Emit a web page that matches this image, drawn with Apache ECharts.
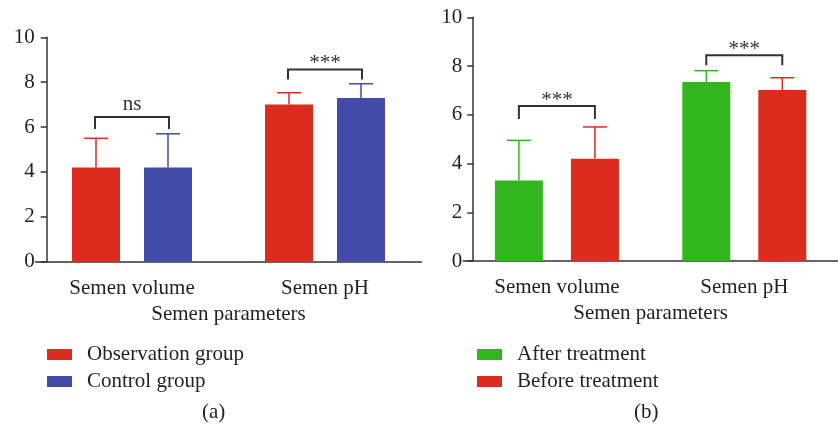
<!DOCTYPE html>
<html>
<head>
<meta charset="utf-8">
<script src="https://cdn.jsdelivr.net/npm/echarts@6/dist/echarts.min.js"></script>
<style>
  html, body { margin: 0; padding: 0; background: #fff; }
  #main { width: 838px; height: 432px; }
</style>
</head>
<body>
<div id="main"></div>
<script>
// 数据
var categories = ['Semen volume', 'Semen pH'];
var yTicks = [0, 2, 4, 6, 8, 10];

// (a)
var obsMean = [4.2, 7.0];
var obsSd = [1.3, 0.53];
var ctrlMean = [4.2, 7.3];
var ctrlSd = [1.5, 0.63];
var sigA = ['ns', '***'];
var bracketA = [6.45, 8.57];

// (b)
var afterMean = [3.3, 7.35];
var afterSd = [1.65, 0.46];
var beforeMean = [4.2, 7.02];
var beforeSd = [1.3, 0.5];
var sigB = ['***', '***'];
var bracketB = [6.36, 8.44];

var RED = '#dc2c1e', BLUE = '#424ba7', GREEN = '#31b61e';
var FONT = 'Liberation Serif';
var FS = 21;
var TXT = '#231f20';

var echart_1 = echarts.init(document.getElementById('main'));

function errSeries(means, sds, color, idx, shift) {
    return {
        type: 'custom',
        xAxisIndex: idx, yAxisIndex: idx,
        z: 3,
        data: means.map(function (m, i) { return [i, m, m + sds[i]]; }),
        renderItem: function (params, api) {
            var p0 = api.coord([api.value(0), api.value(1)]);
            var p1 = api.coord([api.value(0), api.value(2)]);
            var x = p0[0] + shift;
            return {
                type: 'group',
                children: [
                    { type: 'line', shape: { x1: x, y1: p0[1], x2: x, y2: p1[1] }, style: { stroke: color, lineWidth: 1.5 } },
                    { type: 'line', shape: { x1: x - 12, y1: p1[1], x2: x + 12, y2: p1[1] }, style: { stroke: color, lineWidth: 1.5 } }
                ]
            };
        }
    };
}

function bracketSeries(levels, labels, idx, half, drops) {
    return {
        type: 'custom',
        xAxisIndex: idx, yAxisIndex: idx,
        z: 4,
        data: levels.map(function (v, i) { return [i, v]; }),
        renderItem: function (params, api) {
            var p = api.coord([api.value(0), api.value(1)]);
            var d = drops[params.dataIndex];
            var lab = labels[params.dataIndex];
            // 星号字形偏上，ns 偏下
            var ty = lab === 'ns' ? p[1] - 12 : p[1] - 6;
            return {
                type: 'group',
                children: [
                    { type: 'polyline', shape: { points: [[p[0] - half, p[1] + d], [p[0] - half, p[1]], [p[0] + half, p[1]], [p[0] + half, p[1] + d]] },
                      style: { stroke: '#333', lineWidth: 2, fill: null } },
                    { type: 'text', style: { text: lab, x: p[0], y: ty, align: 'center', verticalAlign: 'middle',
                      font: FS + 'px "' + FONT + '"', fill: '#333' } }
                ]
            };
        }
    };
}

function xAxisOf(idx) {
    return {
        type: 'category', gridIndex: idx, data: categories,
        name: 'Semen parameters', nameLocation: 'middle', nameGap: 35,
        nameTextStyle: { fontFamily: FONT, fontSize: FS, color: TXT },
        axisLine: { lineStyle: { color: '#333', width: 1.5 } },
        axisTick: { alignWithLabel: true, length: 7, lineStyle: { color: '#333', width: 1.5 } },
        axisLabel: { margin: 16, fontFamily: FONT, fontSize: FS, color: TXT }
    };
}

function yAxisOf(idx, off, margin) {
    return {
        type: 'value', gridIndex: idx, min: yTicks[0], max: yTicks[yTicks.length - 1], interval: 2,
        offset: off,
        splitLine: { show: false },
        axisLine: { show: true, lineStyle: { color: '#333', width: 1.5 } },
        axisTick: { show: true, length: 6, lineStyle: { color: '#333', width: 1.5 } },
        axisLabel: { margin: margin, fontFamily: FONT, fontSize: FS, color: TXT }
    };
}

var option1 = {
    animation: false,
    grid: [
        { left: 35.5, top: 37.3, width: 386, bottom: 170.3 },
        { left: 463.2, top: 17.3, width: 398, bottom: 171 }
    ],
    xAxis: [xAxisOf(0), xAxisOf(1)],
    yAxis: [yAxisOf(0, -11.2, 12), yAxisOf(1, -10, 11)],
    legend: [
        { data: ['Observation group', 'Control group'], orient: 'vertical', left: 47, top: 344, padding: 0,
          itemWidth: 25, itemHeight: 11, itemGap: 6, icon: 'rect',
          textStyle: { fontFamily: FONT, fontSize: FS, color: TXT, padding: [0, 0, 0, 10] } },
        { data: ['After treatment', 'Before treatment'], orient: 'vertical', left: 477, top: 344, padding: 0,
          itemWidth: 25, itemHeight: 11, itemGap: 6, icon: 'rect',
          textStyle: { fontFamily: FONT, fontSize: FS, color: TXT, padding: [0, 0, 0, 10] } }
    ],
    graphic: [
        { type: 'text', left: 202, top: 402, style: { text: '(a)', font: FS + 'px "' + FONT + '"', fill: TXT } },
        { type: 'text', left: 634, top: 402, style: { text: '(b)', font: FS + 'px "' + FONT + '"', fill: TXT } }
    ],
    series: [
        { name: 'Observation group', type: 'bar', xAxisIndex: 0, yAxisIndex: 0, data: obsMean,
          barWidth: 48, barGap: '50%', itemStyle: { color: RED } },
        { name: 'Control group', type: 'bar', xAxisIndex: 0, yAxisIndex: 0, data: ctrlMean,
          barWidth: 48, barGap: '50%', itemStyle: { color: BLUE } },
        { name: 'After treatment', type: 'bar', xAxisIndex: 1, yAxisIndex: 1, data: afterMean,
          barWidth: 48, barGap: '58.33%', itemStyle: { color: GREEN } },
        { name: 'Before treatment', type: 'bar', xAxisIndex: 1, yAxisIndex: 1, data: beforeMean,
          barWidth: 48, barGap: '58.33%', itemStyle: { color: RED } },
        errSeries(obsMean, obsSd, RED, 0, -36),
        errSeries(ctrlMean, ctrlSd, BLUE, 0, 36),
        errSeries(afterMean, afterSd, GREEN, 1, -38),
        errSeries(beforeMean, beforeSd, RED, 1, 38),
        bracketSeries(bracketA, sigA, 0, 37, [12, 10]),
        bracketSeries(bracketB, sigB, 1, 38, [13, 10])
    ]
};

echart_1.setOption(option1);
</script>
</body>
</html>
